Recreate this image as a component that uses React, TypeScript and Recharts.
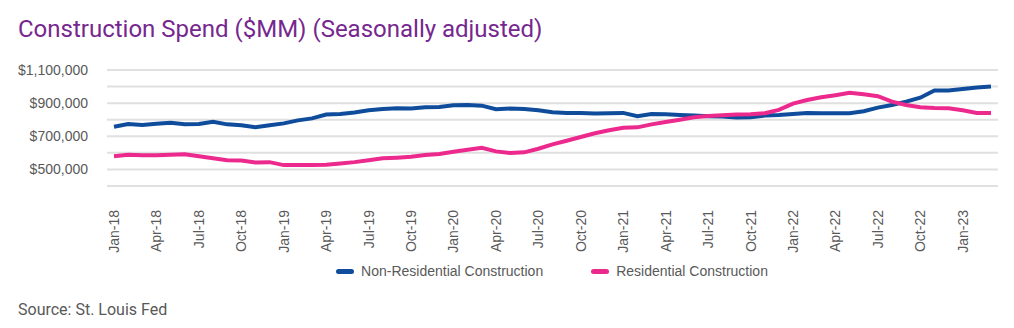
import { LineChart, Line, XAxis, YAxis, CartesianGrid, Legend } from "recharts";

// monthly, Jan-18 .. Mar-23
const months = [
  "Jan-18", "Feb-18", "Mar-18", "Apr-18", "May-18", "Jun-18", "Jul-18", "Aug-18", "Sep-18", "Oct-18", "Nov-18", "Dec-18",
  "Jan-19", "Feb-19", "Mar-19", "Apr-19", "May-19", "Jun-19", "Jul-19", "Aug-19", "Sep-19", "Oct-19", "Nov-19", "Dec-19",
  "Jan-20", "Feb-20", "Mar-20", "Apr-20", "May-20", "Jun-20", "Jul-20", "Aug-20", "Sep-20", "Oct-20", "Nov-20", "Dec-20",
  "Jan-21", "Feb-21", "Mar-21", "Apr-21", "May-21", "Jun-21", "Jul-21", "Aug-21", "Sep-21", "Oct-21", "Nov-21", "Dec-21",
  "Jan-22", "Feb-22", "Mar-22", "Apr-22", "May-22", "Jun-22", "Jul-22", "Aug-22", "Sep-22", "Oct-22", "Nov-22", "Dec-22",
  "Jan-23", "Feb-23", "Mar-23",
];

const nonResidential = [
  758000, 774000, 768000, 776000, 782000, 772000, 774000, 788000, 772000, 766000, 754000, 766000,
  778000, 796000, 808000, 831000, 835000, 843000, 857000, 865000, 869000, 868000, 875000, 877000,
  887000, 889000, 885000, 863000, 867000, 865000, 857000, 845000, 841000, 841000, 837000, 839000,
  841000, 821000, 835000, 833000, 829000, 825000, 821000, 819000, 813000, 815000, 825000, 829000,
  835000, 841000, 839000, 839000, 839000, 851000, 873000, 889000, 909000, 933000, 976000, 976000,
  986000, 994000, 1000000,
];

const residential = [
  580000, 589000, 585000, 585000, 589000, 591000, 579000, 567000, 556000, 554000, 542000, 544000,
  526000, 526000, 526000, 528000, 536000, 544000, 556000, 567000, 571000, 576000, 587000, 593000,
  607000, 619000, 631000, 609000, 599000, 603000, 625000, 651000, 673000, 696000, 718000, 736000,
  752000, 754000, 772000, 786000, 800000, 815000, 822000, 827000, 831000, 833000, 839000, 859000,
  897000, 919000, 935000, 948000, 962000, 954000, 942000, 909000, 889000, 875000, 871000, 869000,
  857000, 841000, 841000,
];

const yTicks = [400000, 500000, 600000, 700000, 800000, 900000, 1000000, 1100000];
const yLabelled = [500000, 700000, 900000, 1100000];

const data = months.map((m, i) => ({
  month: m,
  nonRes: nonResidential[i],
  res: residential[i],
}));

const BLUE = "#0f4c9b";
const PINK = "#ec2a8e";
const AXIS_TEXT = "#595959";
const FONT = "'Liberation Sans', Arial, sans-serif";

const MonthTick = ({ x, y, payload }: any) => (
  <text
    x={x}
    y={y + 16}
    transform={`rotate(-90, ${x}, ${y + 16})`}
    textAnchor="end"
    dominantBaseline="central"
    fill={AXIS_TEXT}
    fontSize={14}
    fontFamily={FONT}
  >
    {payload.value}
  </text>
);

const LegendContent = () => (
  <div style={{ display: "flex", justifyContent: "center", alignItems: "center", height: 22, paddingLeft: 106, fontFamily: FONT, fontSize: 14, color: AXIS_TEXT }}>
    {[["Non-Residential Construction", BLUE], ["Residential Construction", PINK]].map(([name, c], i) => (
      <div key={name} style={{ display: "flex", alignItems: "center", marginLeft: i ? 48 : 0 }}>
        <span style={{ width: 18, height: 5, borderRadius: 3, background: c, marginRight: 7 }} />
        <span>{name}</span>
      </div>
    ))}
  </div>
);

export default function App() {
  return (
    <div style={{ position: "absolute", left: 0, top: 0, width: 1014, height: 328, background: "#fff" }}>
      <div style={{ position: "absolute", left: 18, top: 17, fontFamily: "Roboto, sans-serif", fontSize: 24, lineHeight: "24px", color: "#76278f", whiteSpace: "nowrap" }}>
        Construction Spend ($MM) (Seasonally adjusted)
      </div>
      <LineChart width={1014} height={290} data={data} margin={{ top: 70, right: 16, left: 0, bottom: 8 }}>
        <CartesianGrid vertical={false} stroke="#e0e0e0" strokeWidth={2} />
        <XAxis
          dataKey="month"
          axisLine={false}
          tickLine={false}
          interval={2}
          height={74}
          padding={{ left: 7, right: 7 }}
          tick={<MonthTick />}
        />
        <YAxis
          width={107}
          domain={[400000, 1100000]}
          ticks={yTicks}
          axisLine={false}
          tickLine={false}
          tickMargin={13}
          tick={{ fill: AXIS_TEXT, fontSize: 14, fontFamily: FONT }}
          tickFormatter={(v: number) => (yLabelled.includes(v) ? "$" + v.toLocaleString("en-US") : "")}
        />
        <Legend verticalAlign="bottom" content={<LegendContent />} />
        <Line type="linear" dataKey="nonRes" name="Non-Residential Construction" stroke={BLUE} strokeWidth={4} dot={false} isAnimationActive={false} />
        <Line type="linear" dataKey="res" name="Residential Construction" stroke={PINK} strokeWidth={4} dot={false} isAnimationActive={false} />
      </LineChart>
      <div style={{ position: "absolute", left: 18, top: 302, fontFamily: "Roboto, sans-serif", fontSize: 16, lineHeight: "16px", color: AXIS_TEXT, whiteSpace: "nowrap" }}>
        Source: St. Louis Fed
      </div>
    </div>
  );
}
